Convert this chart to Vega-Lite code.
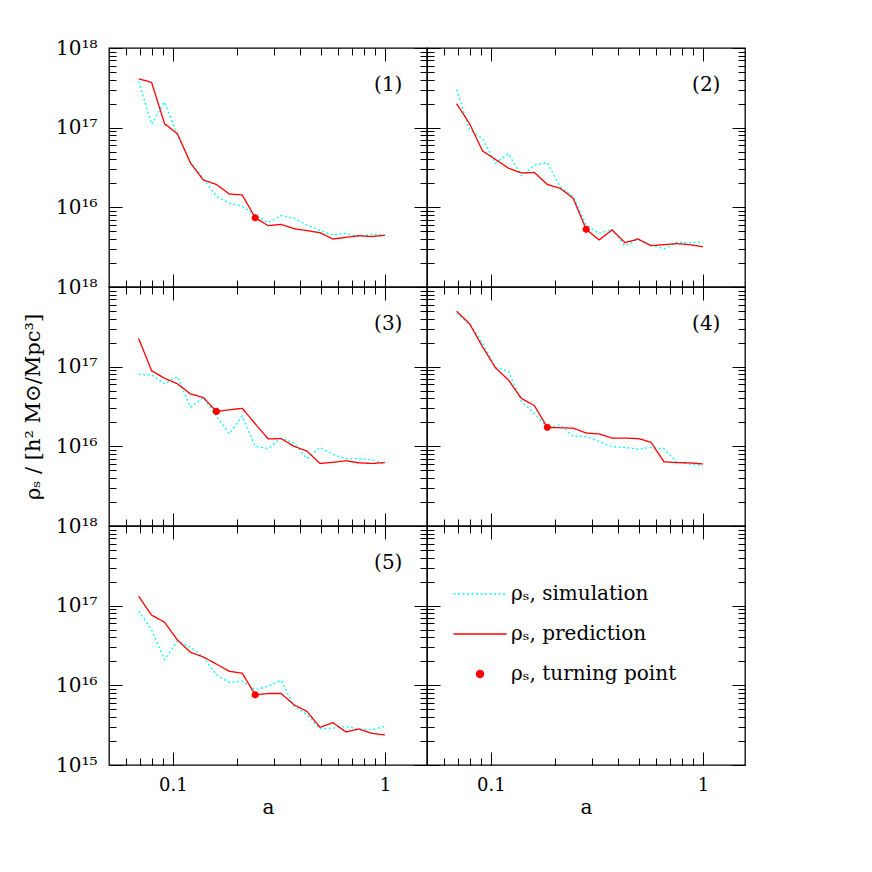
{
  "$schema": "https://vega.github.io/schema/vega-lite/v6.json",
  "background": "white",
  "padding": {"left": 21, "top": 37, "right": 5, "bottom": 5},
  "datasets": {
    "w": [
      {"p":1,"a":0.069,"simulation":3.8e17,"prediction":4.1e17},
      {"p":1,"a":0.0794,"simulation":1.1e17,"prediction":3.7e17},
      {"p":1,"a":0.0914,"simulation":2.1e17,"prediction":1.12e17},
      {"p":1,"a":0.1051,"simulation":8.0e16,"prediction":8.4e16},
      {"p":1,"a":0.1211,"simulation":3.7e16,"prediction":3.6e16},
      {"p":1,"a":0.1393,"simulation":2.3e16,"prediction":2.2e16},
      {"p":1,"a":0.1604,"simulation":1.37e16,"prediction":1.94e16},
      {"p":1,"a":0.1846,"simulation":1.13e16,"prediction":1.47e16},
      {"p":1,"a":0.2125,"simulation":1.03e16,"prediction":1.43e16},
      {"p":1,"a":0.2446,"simulation":7.9e15,"prediction":7.4e15},
      {"p":1,"a":0.2815,"simulation":6.4e15,"prediction":5.9e15},
      {"p":1,"a":0.324,"simulation":7.9e15,"prediction":6.1e15},
      {"p":1,"a":0.373,"simulation":7.3e15,"prediction":5.4e15},
      {"p":1,"a":0.4294,"simulation":6.0e15,"prediction":5.1e15},
      {"p":1,"a":0.4943,"simulation":5.1e15,"prediction":4.8e15},
      {"p":1,"a":0.5689,"simulation":4.5e15,"prediction":4.0e15},
      {"p":1,"a":0.6549,"simulation":4.7e15,"prediction":4.2e15},
      {"p":1,"a":0.7538,"simulation":4.3e15,"prediction":4.4e15},
      {"p":1,"a":0.8677,"simulation":4.6e15,"prediction":4.3e15},
      {"p":1,"a":1.0,"simulation":4.5e15,"prediction":4.46e15},
      {"p":2,"a":0.069,"simulation":3.0e17,"prediction":2.0e17},
      {"p":2,"a":0.0794,"simulation":9.3e16,"prediction":1.12e17},
      {"p":2,"a":0.0914,"simulation":7.3e16,"prediction":5.1e16},
      {"p":2,"a":0.1051,"simulation":3.6e16,"prediction":4.0e16},
      {"p":2,"a":0.1211,"simulation":4.7e16,"prediction":3.1e16},
      {"p":2,"a":0.1393,"simulation":2.5e16,"prediction":2.7e16},
      {"p":2,"a":0.1604,"simulation":3.4e16,"prediction":2.74e16},
      {"p":2,"a":0.1846,"simulation":3.65e16,"prediction":1.94e16},
      {"p":2,"a":0.2125,"simulation":1.8e16,"prediction":1.73e16},
      {"p":2,"a":0.2446,"simulation":1.36e16,"prediction":1.3e16},
      {"p":2,"a":0.2815,"simulation":6.0e15,"prediction":5.3e15},
      {"p":2,"a":0.324,"simulation":4.7e15,"prediction":3.9e15},
      {"p":2,"a":0.373,"simulation":5.3e15,"prediction":5.2e15},
      {"p":2,"a":0.4294,"simulation":3.3e15,"prediction":3.6e15},
      {"p":2,"a":0.4943,"simulation":4.0e15,"prediction":4.0e15},
      {"p":2,"a":0.5689,"simulation":3.4e15,"prediction":3.3e15},
      {"p":2,"a":0.6549,"simulation":3.0e15,"prediction":3.4e15},
      {"p":2,"a":0.7538,"simulation":3.65e15,"prediction":3.5e15},
      {"p":2,"a":0.8677,"simulation":3.6e15,"prediction":3.4e15},
      {"p":2,"a":1.0,"simulation":3.65e15,"prediction":3.2e15},
      {"p":3,"a":0.069,"simulation":8.0e16,"prediction":2.26e17},
      {"p":3,"a":0.0794,"simulation":7.9e16,"prediction":8.9e16},
      {"p":3,"a":0.0914,"simulation":6.1e16,"prediction":7.15e16},
      {"p":3,"a":0.1051,"simulation":7.5e16,"prediction":6.1e16},
      {"p":3,"a":0.1211,"simulation":3.1e16,"prediction":4.55e16},
      {"p":3,"a":0.1393,"simulation":4.1e16,"prediction":4.1e16},
      {"p":3,"a":0.1604,"simulation":2.4e16,"prediction":2.74e16},
      {"p":3,"a":0.1846,"simulation":1.44e16,"prediction":2.87e16},
      {"p":3,"a":0.2125,"simulation":2.4e16,"prediction":3.0e16},
      {"p":3,"a":0.2446,"simulation":1.0e16,"prediction":1.92e16},
      {"p":3,"a":0.2815,"simulation":9.4e15,"prediction":1.24e16},
      {"p":3,"a":0.324,"simulation":1.27e16,"prediction":1.25e16},
      {"p":3,"a":0.373,"simulation":1.1e16,"prediction":1.0e16},
      {"p":3,"a":0.4294,"simulation":7.0e15,"prediction":8.7e15},
      {"p":3,"a":0.4943,"simulation":9.7e15,"prediction":6.1e15},
      {"p":3,"a":0.5689,"simulation":7.9e15,"prediction":6.3e15},
      {"p":3,"a":0.6549,"simulation":7.0e15,"prediction":6.6e15},
      {"p":3,"a":0.7538,"simulation":7.0e15,"prediction":6.2e15},
      {"p":3,"a":0.8677,"simulation":6.8e15,"prediction":6.1e15},
      {"p":3,"a":1.0,"simulation":5.9e15,"prediction":6.25e15},
      {"p":4,"a":0.069,"simulation":4.7e17,"prediction":4.96e17},
      {"p":4,"a":0.0794,"simulation":3.4e17,"prediction":3.45e17},
      {"p":4,"a":0.0914,"simulation":2.0e17,"prediction":1.78e17},
      {"p":4,"a":0.1051,"simulation":9.8e16,"prediction":9.7e16},
      {"p":4,"a":0.1211,"simulation":8.8e16,"prediction":6.8e16},
      {"p":4,"a":0.1393,"simulation":3.65e16,"prediction":4.0e16},
      {"p":4,"a":0.1604,"simulation":2.6e16,"prediction":3.25e16},
      {"p":4,"a":0.1846,"simulation":1.69e16,"prediction":1.73e16},
      {"p":4,"a":0.2125,"simulation":1.87e16,"prediction":1.71e16},
      {"p":4,"a":0.2446,"simulation":1.33e16,"prediction":1.69e16},
      {"p":4,"a":0.2815,"simulation":1.33e16,"prediction":1.47e16},
      {"p":4,"a":0.324,"simulation":1.15e16,"prediction":1.43e16},
      {"p":4,"a":0.373,"simulation":9.9e15,"prediction":1.27e16},
      {"p":4,"a":0.4294,"simulation":9.7e15,"prediction":1.27e16},
      {"p":4,"a":0.4943,"simulation":9.2e15,"prediction":1.25e16},
      {"p":4,"a":0.5689,"simulation":9.7e15,"prediction":1.13e16},
      {"p":4,"a":0.6549,"simulation":9.3e15,"prediction":6.4e15},
      {"p":4,"a":0.7538,"simulation":6.3e15,"prediction":6.25e15},
      {"p":4,"a":0.8677,"simulation":6.0e15,"prediction":6.2e15},
      {"p":4,"a":1.0,"simulation":5.7e15,"prediction":6.0e15},
      {"p":5,"a":0.069,"simulation":8.5e16,"prediction":1.31e17},
      {"p":5,"a":0.0794,"simulation":5.0e16,"prediction":7.6e16},
      {"p":5,"a":0.0914,"simulation":2.1e16,"prediction":6.2e16},
      {"p":5,"a":0.1051,"simulation":3.6e16,"prediction":3.7e16},
      {"p":5,"a":0.1211,"simulation":3.0e16,"prediction":2.6e16},
      {"p":5,"a":0.1393,"simulation":2.27e16,"prediction":2.27e16},
      {"p":5,"a":0.1604,"simulation":1.36e16,"prediction":1.85e16},
      {"p":5,"a":0.1846,"simulation":1.09e16,"prediction":1.5e16},
      {"p":5,"a":0.2125,"simulation":1.13e16,"prediction":1.42e16},
      {"p":5,"a":0.2446,"simulation":8.8e15,"prediction":7.6e15},
      {"p":5,"a":0.2815,"simulation":9.7e15,"prediction":7.9e15},
      {"p":5,"a":0.324,"simulation":1.16e16,"prediction":7.9e15},
      {"p":5,"a":0.373,"simulation":5.45e15,"prediction":5.7e15},
      {"p":5,"a":0.4294,"simulation":4.3e15,"prediction":4.7e15},
      {"p":5,"a":0.4943,"simulation":2.83e15,"prediction":2.97e15},
      {"p":5,"a":0.5689,"simulation":2.9e15,"prediction":3.4e15},
      {"p":5,"a":0.6549,"simulation":3.05e15,"prediction":2.6e15},
      {"p":5,"a":0.7538,"simulation":2.83e15,"prediction":2.83e15},
      {"p":5,"a":0.8677,"simulation":2.78e15,"prediction":2.5e15},
      {"p":5,"a":1.0,"simulation":3.05e15,"prediction":2.38e15}
    ],
    "tp": [
      {"p":1,"s":"turning point","a":0.2446,"rho":7.4e15},
      {"p":2,"s":"turning point","a":0.2815,"rho":5.3e15},
      {"p":3,"s":"turning point","a":0.1604,"rho":2.74e16},
      {"p":4,"s":"turning point","a":0.1846,"rho":1.73e16},
      {"p":5,"s":"turning point","a":0.2446,"rho":7.6e15}
    ]
  },
  "columns": 2,
  "spacing": 0,
  "bounds": "flush",
  "resolve": {"scale": {"color": "shared", "shape": "shared", "strokeDash": "shared"}, "legend": {"color": "shared", "shape": "shared", "strokeDash": "shared"}},
  "concat": [
    {
      "width": 318, "height": 239,
      "resolve": {"axis": {"x": "independent", "y": "independent"}},
      "layer": [
        {
          "data": {"name": "w"},
          "transform": [{"filter": "datum.p == 1"}, {"fold": ["simulation", "prediction"], "as": ["s", "rho"]}, {"filter": "datum.s == 'simulation'"}],
          "mark": {"type": "line", "strokeWidth": 1.3},
          "encoding": {
            "x": {"field": "a", "type": "quantitative", "scale": {"type": "log", "domain": [0.05, 1.58], "nice": false},
                  "axis": {"orient": "bottom", "values": [0.06,0.07,0.08,0.09,0.1,0.2,0.3,0.4,0.5,0.6,0.7,0.8,0.9,1], "tickSize": {"condition": {"test": "datum.value == 0.1 || datum.value == 1", "value": -13}, "value": -7}, "labels": false, "title": null}},
            "y": {"field": "rho", "type": "quantitative", "scale": {"type": "log", "domain": [1e15, 1e18], "nice": false},
                  "axis": {"orient": "left", "values": [1e15,2e15,3e15,4e15,5e15,6e15,7e15,8e15,9e15,1e16,2e16,3e16,4e16,5e16,6e16,7e16,8e16,9e16,1e17,2e17,3e17,4e17,5e17,6e17,7e17,8e17,9e17,1e18], "tickSize": {"condition": {"test": "datum.value == 1e15 || datum.value == 1e16 || datum.value == 1e17 || datum.value == 1e18", "value": -13}, "value": -7}, "labelExpr": "datum.value == 1e18 ? '10¹⁸' : datum.value == 1e17 ? '10¹⁷' : datum.value == 1e16 ? '10¹⁶' : ''", "labelPadding": 25, "title": null}},
            "color": {"field": "s", "type": "nominal", "scale": {"domain": ["simulation", "prediction", "turning point"], "range": ["#00ffff", "#ff0000", "#ff0000"]},
              "legend": {
                "orient": "none", "legendX": 361, "legendY": 536, "title": null,
                "padding": 0, "rowPadding": 20, "symbolOffset": 0, "labelOffset": 21,
                "symbolSize": 312, "symbolStrokeWidth": 1.3,
                "labelFont": "DejaVu Serif", "labelFontSize": 20, "labelColor": "black", "labelLimit": 400,
                "labelExpr": "'ρₛ, ' + datum.label"
              }},
            "strokeDash": {"field": "s", "type": "nominal", "scale": {"domain": ["simulation", "prediction", "turning point"], "range": [[2, 2.5], [1, 0], [1, 0]]}}
          }
        },
        {
          "data": {"name": "w"},
          "transform": [{"filter": "datum.p == 1"}, {"fold": ["simulation", "prediction"], "as": ["s", "rho"]}, {"filter": "datum.s == 'prediction'"}],
          "mark": {"type": "line", "strokeWidth": 1.3},
          "encoding": {
            "x": {"field": "a", "type": "quantitative", "scale": {"type": "log", "domain": [0.05, 1.58], "nice": false},
                  "axis": {"orient": "top", "values": [0.06,0.07,0.08,0.09,0.1,0.2,0.3,0.4,0.5,0.6,0.7,0.8,0.9,1], "tickSize": {"condition": {"test": "datum.value == 0.1 || datum.value == 1", "value": -13}, "value": -7}, "labels": false, "title": null}},
            "y": {"field": "rho", "type": "quantitative", "scale": {"type": "log", "domain": [1e15, 1e18], "nice": false},
                  "axis": {"orient": "right", "values": [1e15,2e15,3e15,4e15,5e15,6e15,7e15,8e15,9e15,1e16,2e16,3e16,4e16,5e16,6e16,7e16,8e16,9e16,1e17,2e17,3e17,4e17,5e17,6e17,7e17,8e17,9e17,1e18], "tickSize": {"condition": {"test": "datum.value == 1e15 || datum.value == 1e16 || datum.value == 1e17 || datum.value == 1e18", "value": -13}, "value": -7}, "labels": false, "title": null}},
            "color": {"field": "s", "type": "nominal", "scale": {"domain": ["simulation", "prediction", "turning point"], "range": ["#00ffff", "#ff0000", "#ff0000"]}},
            "strokeDash": {"field": "s", "type": "nominal", "scale": {"domain": ["simulation", "prediction", "turning point"], "range": [[2, 2.5], [1, 0], [1, 0]]}}
          }
        },
        {
          "data": {"name": "tp"},
          "transform": [{"filter": "datum.p == 1"}],
          "mark": {"type": "point", "filled": true, "size": 324, "opacity": 1},
          "encoding": {
            "x": {"field": "a", "type": "quantitative", "scale": {"type": "log", "domain": [0.05, 1.58], "nice": false}, "axis": null},
            "y": {"field": "rho", "type": "quantitative", "scale": {"type": "log", "domain": [1e15, 1e18], "nice": false}, "axis": null},
            "color": {"field": "s", "type": "nominal", "scale": {"domain": ["simulation", "prediction", "turning point"], "range": ["#00ffff", "#ff0000", "#ff0000"]}},
            "shape": {"field": "s", "type": "nominal", "scale": {"domain": ["simulation", "prediction", "turning point"], "range": ["M-3,0H3", "M-3,0H3", "M0.4,0A0.4,0.4 0 1,1 -0.4,0A0.4,0.4 0 1,1 0.4,0Z"]}}
          }
        },
        {
          "data": {"values": [{}]},
          "mark": {"type": "text", "text": "(1)", "align": "right", "baseline": "alphabetic", "fontSize": 20, "font": "DejaVu Serif", "color": "black"},
          "encoding": {
            "x": {"datum": 1.21, "type": "quantitative", "scale": {"type": "log", "domain": [0.05, 1.58], "nice": false}, "axis": null},
            "y": {"datum": 2.9e17, "type": "quantitative", "scale": {"type": "log", "domain": [1e15, 1e18], "nice": false}, "axis": null}
          }
        }
      ]
    },
    {
      "width": 318, "height": 239,
      "resolve": {"axis": {"x": "independent", "y": "independent"}},
      "layer": [
        {
          "data": {"name": "w"},
          "transform": [{"filter": "datum.p == 2"}, {"fold": ["simulation", "prediction"], "as": ["s", "rho"]}, {"filter": "datum.s == 'simulation'"}],
          "mark": {"type": "line", "strokeWidth": 1.3},
          "encoding": {
            "x": {"field": "a", "type": "quantitative", "scale": {"type": "log", "domain": [0.05, 1.58], "nice": false},
                  "axis": {"orient": "bottom", "values": [0.06,0.07,0.08,0.09,0.1,0.2,0.3,0.4,0.5,0.6,0.7,0.8,0.9,1], "tickSize": {"condition": {"test": "datum.value == 0.1 || datum.value == 1", "value": -13}, "value": -7}, "labels": false, "title": null}},
            "y": {"field": "rho", "type": "quantitative", "scale": {"type": "log", "domain": [1e15, 1e18], "nice": false},
                  "axis": {"orient": "left", "values": [1e15,2e15,3e15,4e15,5e15,6e15,7e15,8e15,9e15,1e16,2e16,3e16,4e16,5e16,6e16,7e16,8e16,9e16,1e17,2e17,3e17,4e17,5e17,6e17,7e17,8e17,9e17,1e18], "tickSize": {"condition": {"test": "datum.value == 1e15 || datum.value == 1e16 || datum.value == 1e17 || datum.value == 1e18", "value": -13}, "value": -7}, "labels": false, "title": null}},
            "color": {"field": "s", "type": "nominal", "scale": {"domain": ["simulation", "prediction", "turning point"], "range": ["#00ffff", "#ff0000", "#ff0000"]}},
            "strokeDash": {"field": "s", "type": "nominal", "scale": {"domain": ["simulation", "prediction", "turning point"], "range": [[2, 2.5], [1, 0], [1, 0]]}}
          }
        },
        {
          "data": {"name": "w"},
          "transform": [{"filter": "datum.p == 2"}, {"fold": ["simulation", "prediction"], "as": ["s", "rho"]}, {"filter": "datum.s == 'prediction'"}],
          "mark": {"type": "line", "strokeWidth": 1.3},
          "encoding": {
            "x": {"field": "a", "type": "quantitative", "scale": {"type": "log", "domain": [0.05, 1.58], "nice": false},
                  "axis": {"orient": "top", "values": [0.06,0.07,0.08,0.09,0.1,0.2,0.3,0.4,0.5,0.6,0.7,0.8,0.9,1], "tickSize": {"condition": {"test": "datum.value == 0.1 || datum.value == 1", "value": -13}, "value": -7}, "labels": false, "title": null}},
            "y": {"field": "rho", "type": "quantitative", "scale": {"type": "log", "domain": [1e15, 1e18], "nice": false},
                  "axis": {"orient": "right", "values": [1e15,2e15,3e15,4e15,5e15,6e15,7e15,8e15,9e15,1e16,2e16,3e16,4e16,5e16,6e16,7e16,8e16,9e16,1e17,2e17,3e17,4e17,5e17,6e17,7e17,8e17,9e17,1e18], "tickSize": {"condition": {"test": "datum.value == 1e15 || datum.value == 1e16 || datum.value == 1e17 || datum.value == 1e18", "value": -13}, "value": -7}, "labels": false, "title": null}},
            "color": {"field": "s", "type": "nominal", "scale": {"domain": ["simulation", "prediction", "turning point"], "range": ["#00ffff", "#ff0000", "#ff0000"]}},
            "strokeDash": {"field": "s", "type": "nominal", "scale": {"domain": ["simulation", "prediction", "turning point"], "range": [[2, 2.5], [1, 0], [1, 0]]}}
          }
        },
        {
          "data": {"name": "tp"},
          "transform": [{"filter": "datum.p == 2"}],
          "mark": {"type": "point", "filled": true, "size": 324, "opacity": 1},
          "encoding": {
            "x": {"field": "a", "type": "quantitative", "scale": {"type": "log", "domain": [0.05, 1.58], "nice": false}, "axis": null},
            "y": {"field": "rho", "type": "quantitative", "scale": {"type": "log", "domain": [1e15, 1e18], "nice": false}, "axis": null},
            "color": {"field": "s", "type": "nominal", "scale": {"domain": ["simulation", "prediction", "turning point"], "range": ["#00ffff", "#ff0000", "#ff0000"]}},
            "shape": {"field": "s", "type": "nominal", "scale": {"domain": ["simulation", "prediction", "turning point"], "range": ["M-3,0H3", "M-3,0H3", "M0.4,0A0.4,0.4 0 1,1 -0.4,0A0.4,0.4 0 1,1 0.4,0Z"]}}
          }
        },
        {
          "data": {"values": [{}]},
          "mark": {"type": "text", "text": "(2)", "align": "right", "baseline": "alphabetic", "fontSize": 20, "font": "DejaVu Serif", "color": "black"},
          "encoding": {
            "x": {"datum": 1.21, "type": "quantitative", "scale": {"type": "log", "domain": [0.05, 1.58], "nice": false}, "axis": null},
            "y": {"datum": 2.9e17, "type": "quantitative", "scale": {"type": "log", "domain": [1e15, 1e18], "nice": false}, "axis": null}
          }
        }
      ]
    },
    {
      "width": 318, "height": 239,
      "resolve": {"axis": {"x": "independent", "y": "independent"}},
      "layer": [
        {
          "data": {"name": "w"},
          "transform": [{"filter": "datum.p == 3"}, {"fold": ["simulation", "prediction"], "as": ["s", "rho"]}, {"filter": "datum.s == 'simulation'"}],
          "mark": {"type": "line", "strokeWidth": 1.3},
          "encoding": {
            "x": {"field": "a", "type": "quantitative", "scale": {"type": "log", "domain": [0.05, 1.58], "nice": false},
                  "axis": {"orient": "bottom", "values": [0.06,0.07,0.08,0.09,0.1,0.2,0.3,0.4,0.5,0.6,0.7,0.8,0.9,1], "tickSize": {"condition": {"test": "datum.value == 0.1 || datum.value == 1", "value": -13}, "value": -7}, "labels": false, "title": null}},
            "y": {"field": "rho", "type": "quantitative", "scale": {"type": "log", "domain": [1e15, 1e18], "nice": false},
                  "axis": {"orient": "left", "values": [1e15,2e15,3e15,4e15,5e15,6e15,7e15,8e15,9e15,1e16,2e16,3e16,4e16,5e16,6e16,7e16,8e16,9e16,1e17,2e17,3e17,4e17,5e17,6e17,7e17,8e17,9e17,1e18], "tickSize": {"condition": {"test": "datum.value == 1e15 || datum.value == 1e16 || datum.value == 1e17 || datum.value == 1e18", "value": -13}, "value": -7}, "labelExpr": "datum.value == 1e18 ? '10¹⁸' : datum.value == 1e17 ? '10¹⁷' : datum.value == 1e16 ? '10¹⁶' : ''", "labelPadding": 25, "title": "ρₛ / [h² M⊙/Mpc³]", "titlePadding": 12, "titleFontSize": 21}},
            "color": {"field": "s", "type": "nominal", "scale": {"domain": ["simulation", "prediction", "turning point"], "range": ["#00ffff", "#ff0000", "#ff0000"]}},
            "strokeDash": {"field": "s", "type": "nominal", "scale": {"domain": ["simulation", "prediction", "turning point"], "range": [[2, 2.5], [1, 0], [1, 0]]}}
          }
        },
        {
          "data": {"name": "w"},
          "transform": [{"filter": "datum.p == 3"}, {"fold": ["simulation", "prediction"], "as": ["s", "rho"]}, {"filter": "datum.s == 'prediction'"}],
          "mark": {"type": "line", "strokeWidth": 1.3},
          "encoding": {
            "x": {"field": "a", "type": "quantitative", "scale": {"type": "log", "domain": [0.05, 1.58], "nice": false},
                  "axis": {"orient": "top", "values": [0.06,0.07,0.08,0.09,0.1,0.2,0.3,0.4,0.5,0.6,0.7,0.8,0.9,1], "tickSize": {"condition": {"test": "datum.value == 0.1 || datum.value == 1", "value": -13}, "value": -7}, "labels": false, "title": null}},
            "y": {"field": "rho", "type": "quantitative", "scale": {"type": "log", "domain": [1e15, 1e18], "nice": false},
                  "axis": {"orient": "right", "values": [1e15,2e15,3e15,4e15,5e15,6e15,7e15,8e15,9e15,1e16,2e16,3e16,4e16,5e16,6e16,7e16,8e16,9e16,1e17,2e17,3e17,4e17,5e17,6e17,7e17,8e17,9e17,1e18], "tickSize": {"condition": {"test": "datum.value == 1e15 || datum.value == 1e16 || datum.value == 1e17 || datum.value == 1e18", "value": -13}, "value": -7}, "labels": false, "title": null}},
            "color": {"field": "s", "type": "nominal", "scale": {"domain": ["simulation", "prediction", "turning point"], "range": ["#00ffff", "#ff0000", "#ff0000"]}},
            "strokeDash": {"field": "s", "type": "nominal", "scale": {"domain": ["simulation", "prediction", "turning point"], "range": [[2, 2.5], [1, 0], [1, 0]]}}
          }
        },
        {
          "data": {"name": "tp"},
          "transform": [{"filter": "datum.p == 3"}],
          "mark": {"type": "point", "filled": true, "size": 324, "opacity": 1},
          "encoding": {
            "x": {"field": "a", "type": "quantitative", "scale": {"type": "log", "domain": [0.05, 1.58], "nice": false}, "axis": null},
            "y": {"field": "rho", "type": "quantitative", "scale": {"type": "log", "domain": [1e15, 1e18], "nice": false}, "axis": null},
            "color": {"field": "s", "type": "nominal", "scale": {"domain": ["simulation", "prediction", "turning point"], "range": ["#00ffff", "#ff0000", "#ff0000"]}},
            "shape": {"field": "s", "type": "nominal", "scale": {"domain": ["simulation", "prediction", "turning point"], "range": ["M-3,0H3", "M-3,0H3", "M0.4,0A0.4,0.4 0 1,1 -0.4,0A0.4,0.4 0 1,1 0.4,0Z"]}}
          }
        },
        {
          "data": {"values": [{}]},
          "mark": {"type": "text", "text": "(3)", "align": "right", "baseline": "alphabetic", "fontSize": 20, "font": "DejaVu Serif", "color": "black"},
          "encoding": {
            "x": {"datum": 1.21, "type": "quantitative", "scale": {"type": "log", "domain": [0.05, 1.58], "nice": false}, "axis": null},
            "y": {"datum": 2.9e17, "type": "quantitative", "scale": {"type": "log", "domain": [1e15, 1e18], "nice": false}, "axis": null}
          }
        }
      ]
    },
    {
      "width": 318, "height": 239,
      "resolve": {"axis": {"x": "independent", "y": "independent"}},
      "layer": [
        {
          "data": {"name": "w"},
          "transform": [{"filter": "datum.p == 4"}, {"fold": ["simulation", "prediction"], "as": ["s", "rho"]}, {"filter": "datum.s == 'simulation'"}],
          "mark": {"type": "line", "strokeWidth": 1.3},
          "encoding": {
            "x": {"field": "a", "type": "quantitative", "scale": {"type": "log", "domain": [0.05, 1.58], "nice": false},
                  "axis": {"orient": "bottom", "values": [0.06,0.07,0.08,0.09,0.1,0.2,0.3,0.4,0.5,0.6,0.7,0.8,0.9,1], "tickSize": {"condition": {"test": "datum.value == 0.1 || datum.value == 1", "value": -13}, "value": -7}, "labels": false, "title": null}},
            "y": {"field": "rho", "type": "quantitative", "scale": {"type": "log", "domain": [1e15, 1e18], "nice": false},
                  "axis": {"orient": "left", "values": [1e15,2e15,3e15,4e15,5e15,6e15,7e15,8e15,9e15,1e16,2e16,3e16,4e16,5e16,6e16,7e16,8e16,9e16,1e17,2e17,3e17,4e17,5e17,6e17,7e17,8e17,9e17,1e18], "tickSize": {"condition": {"test": "datum.value == 1e15 || datum.value == 1e16 || datum.value == 1e17 || datum.value == 1e18", "value": -13}, "value": -7}, "labels": false, "title": null}},
            "color": {"field": "s", "type": "nominal", "scale": {"domain": ["simulation", "prediction", "turning point"], "range": ["#00ffff", "#ff0000", "#ff0000"]}},
            "strokeDash": {"field": "s", "type": "nominal", "scale": {"domain": ["simulation", "prediction", "turning point"], "range": [[2, 2.5], [1, 0], [1, 0]]}}
          }
        },
        {
          "data": {"name": "w"},
          "transform": [{"filter": "datum.p == 4"}, {"fold": ["simulation", "prediction"], "as": ["s", "rho"]}, {"filter": "datum.s == 'prediction'"}],
          "mark": {"type": "line", "strokeWidth": 1.3},
          "encoding": {
            "x": {"field": "a", "type": "quantitative", "scale": {"type": "log", "domain": [0.05, 1.58], "nice": false},
                  "axis": {"orient": "top", "values": [0.06,0.07,0.08,0.09,0.1,0.2,0.3,0.4,0.5,0.6,0.7,0.8,0.9,1], "tickSize": {"condition": {"test": "datum.value == 0.1 || datum.value == 1", "value": -13}, "value": -7}, "labels": false, "title": null}},
            "y": {"field": "rho", "type": "quantitative", "scale": {"type": "log", "domain": [1e15, 1e18], "nice": false},
                  "axis": {"orient": "right", "values": [1e15,2e15,3e15,4e15,5e15,6e15,7e15,8e15,9e15,1e16,2e16,3e16,4e16,5e16,6e16,7e16,8e16,9e16,1e17,2e17,3e17,4e17,5e17,6e17,7e17,8e17,9e17,1e18], "tickSize": {"condition": {"test": "datum.value == 1e15 || datum.value == 1e16 || datum.value == 1e17 || datum.value == 1e18", "value": -13}, "value": -7}, "labels": false, "title": null}},
            "color": {"field": "s", "type": "nominal", "scale": {"domain": ["simulation", "prediction", "turning point"], "range": ["#00ffff", "#ff0000", "#ff0000"]}},
            "strokeDash": {"field": "s", "type": "nominal", "scale": {"domain": ["simulation", "prediction", "turning point"], "range": [[2, 2.5], [1, 0], [1, 0]]}}
          }
        },
        {
          "data": {"name": "tp"},
          "transform": [{"filter": "datum.p == 4"}],
          "mark": {"type": "point", "filled": true, "size": 324, "opacity": 1},
          "encoding": {
            "x": {"field": "a", "type": "quantitative", "scale": {"type": "log", "domain": [0.05, 1.58], "nice": false}, "axis": null},
            "y": {"field": "rho", "type": "quantitative", "scale": {"type": "log", "domain": [1e15, 1e18], "nice": false}, "axis": null},
            "color": {"field": "s", "type": "nominal", "scale": {"domain": ["simulation", "prediction", "turning point"], "range": ["#00ffff", "#ff0000", "#ff0000"]}},
            "shape": {"field": "s", "type": "nominal", "scale": {"domain": ["simulation", "prediction", "turning point"], "range": ["M-3,0H3", "M-3,0H3", "M0.4,0A0.4,0.4 0 1,1 -0.4,0A0.4,0.4 0 1,1 0.4,0Z"]}}
          }
        },
        {
          "data": {"values": [{}]},
          "mark": {"type": "text", "text": "(4)", "align": "right", "baseline": "alphabetic", "fontSize": 20, "font": "DejaVu Serif", "color": "black"},
          "encoding": {
            "x": {"datum": 1.21, "type": "quantitative", "scale": {"type": "log", "domain": [0.05, 1.58], "nice": false}, "axis": null},
            "y": {"datum": 2.9e17, "type": "quantitative", "scale": {"type": "log", "domain": [1e15, 1e18], "nice": false}, "axis": null}
          }
        }
      ]
    },
    {
      "width": 318, "height": 239,
      "resolve": {"axis": {"x": "independent", "y": "independent"}},
      "layer": [
        {
          "data": {"name": "w"},
          "transform": [{"filter": "datum.p == 5"}, {"fold": ["simulation", "prediction"], "as": ["s", "rho"]}, {"filter": "datum.s == 'simulation'"}],
          "mark": {"type": "line", "strokeWidth": 1.3},
          "encoding": {
            "x": {"field": "a", "type": "quantitative", "scale": {"type": "log", "domain": [0.05, 1.58], "nice": false},
                  "axis": {"orient": "bottom", "values": [0.06,0.07,0.08,0.09,0.1,0.2,0.3,0.4,0.5,0.6,0.7,0.8,0.9,1], "tickSize": {"condition": {"test": "datum.value == 0.1 || datum.value == 1", "value": -13}, "value": -7}, "labelExpr": "datum.value == 0.1 ? '0.1' : datum.value == 1 ? '1' : ''", "labelPadding": 24, "title": "a", "titlePadding": -3}},
            "y": {"field": "rho", "type": "quantitative", "scale": {"type": "log", "domain": [1e15, 1e18], "nice": false},
                  "axis": {"orient": "left", "values": [1e15,2e15,3e15,4e15,5e15,6e15,7e15,8e15,9e15,1e16,2e16,3e16,4e16,5e16,6e16,7e16,8e16,9e16,1e17,2e17,3e17,4e17,5e17,6e17,7e17,8e17,9e17,1e18], "tickSize": {"condition": {"test": "datum.value == 1e15 || datum.value == 1e16 || datum.value == 1e17 || datum.value == 1e18", "value": -13}, "value": -7}, "labelExpr": "datum.value == 1e18 ? '10¹⁸' : datum.value == 1e17 ? '10¹⁷' : datum.value == 1e16 ? '10¹⁶' : datum.value == 1e15 ? '10¹⁵' : ''", "labelPadding": 25, "title": null}},
            "color": {"field": "s", "type": "nominal", "scale": {"domain": ["simulation", "prediction", "turning point"], "range": ["#00ffff", "#ff0000", "#ff0000"]}},
            "strokeDash": {"field": "s", "type": "nominal", "scale": {"domain": ["simulation", "prediction", "turning point"], "range": [[2, 2.5], [1, 0], [1, 0]]}}
          }
        },
        {
          "data": {"name": "w"},
          "transform": [{"filter": "datum.p == 5"}, {"fold": ["simulation", "prediction"], "as": ["s", "rho"]}, {"filter": "datum.s == 'prediction'"}],
          "mark": {"type": "line", "strokeWidth": 1.3},
          "encoding": {
            "x": {"field": "a", "type": "quantitative", "scale": {"type": "log", "domain": [0.05, 1.58], "nice": false},
                  "axis": {"orient": "top", "values": [0.06,0.07,0.08,0.09,0.1,0.2,0.3,0.4,0.5,0.6,0.7,0.8,0.9,1], "tickSize": {"condition": {"test": "datum.value == 0.1 || datum.value == 1", "value": -13}, "value": -7}, "labels": false, "title": null}},
            "y": {"field": "rho", "type": "quantitative", "scale": {"type": "log", "domain": [1e15, 1e18], "nice": false},
                  "axis": {"orient": "right", "values": [1e15,2e15,3e15,4e15,5e15,6e15,7e15,8e15,9e15,1e16,2e16,3e16,4e16,5e16,6e16,7e16,8e16,9e16,1e17,2e17,3e17,4e17,5e17,6e17,7e17,8e17,9e17,1e18], "tickSize": {"condition": {"test": "datum.value == 1e15 || datum.value == 1e16 || datum.value == 1e17 || datum.value == 1e18", "value": -13}, "value": -7}, "labels": false, "title": null}},
            "color": {"field": "s", "type": "nominal", "scale": {"domain": ["simulation", "prediction", "turning point"], "range": ["#00ffff", "#ff0000", "#ff0000"]}},
            "strokeDash": {"field": "s", "type": "nominal", "scale": {"domain": ["simulation", "prediction", "turning point"], "range": [[2, 2.5], [1, 0], [1, 0]]}}
          }
        },
        {
          "data": {"name": "tp"},
          "transform": [{"filter": "datum.p == 5"}],
          "mark": {"type": "point", "filled": true, "size": 324, "opacity": 1},
          "encoding": {
            "x": {"field": "a", "type": "quantitative", "scale": {"type": "log", "domain": [0.05, 1.58], "nice": false}, "axis": null},
            "y": {"field": "rho", "type": "quantitative", "scale": {"type": "log", "domain": [1e15, 1e18], "nice": false}, "axis": null},
            "color": {"field": "s", "type": "nominal", "scale": {"domain": ["simulation", "prediction", "turning point"], "range": ["#00ffff", "#ff0000", "#ff0000"]}},
            "shape": {"field": "s", "type": "nominal", "scale": {"domain": ["simulation", "prediction", "turning point"], "range": ["M-3,0H3", "M-3,0H3", "M0.4,0A0.4,0.4 0 1,1 -0.4,0A0.4,0.4 0 1,1 0.4,0Z"]}}
          }
        },
        {
          "data": {"values": [{}]},
          "mark": {"type": "text", "text": "(5)", "align": "right", "baseline": "alphabetic", "fontSize": 20, "font": "DejaVu Serif", "color": "black"},
          "encoding": {
            "x": {"datum": 1.21, "type": "quantitative", "scale": {"type": "log", "domain": [0.05, 1.58], "nice": false}, "axis": null},
            "y": {"datum": 2.9e17, "type": "quantitative", "scale": {"type": "log", "domain": [1e15, 1e18], "nice": false}, "axis": null}
          }
        }
      ]
    },
    {
      "width": 318, "height": 239,
      "resolve": {"axis": {"x": "independent", "y": "independent"}},
      "layer": [
        {
          "data": {"name": "tp"},
          "transform": [{"filter": "false"}],
          "mark": {"type": "point", "opacity": 0},
          "encoding": {
            "x": {"field": "a", "type": "quantitative", "scale": {"type": "log", "domain": [0.05, 1.58], "nice": false},
                  "axis": {"orient": "bottom", "values": [0.06,0.07,0.08,0.09,0.1,0.2,0.3,0.4,0.5,0.6,0.7,0.8,0.9,1], "tickSize": {"condition": {"test": "datum.value == 0.1 || datum.value == 1", "value": -13}, "value": -7}, "labelExpr": "datum.value == 0.1 ? '0.1' : datum.value == 1 ? '1' : ''", "labelPadding": 24, "title": "a", "titlePadding": -3}},
            "y": {"field": "rho", "type": "quantitative", "scale": {"type": "log", "domain": [1e15, 1e18], "nice": false},
                  "axis": {"orient": "left", "values": [1e15,2e15,3e15,4e15,5e15,6e15,7e15,8e15,9e15,1e16,2e16,3e16,4e16,5e16,6e16,7e16,8e16,9e16,1e17,2e17,3e17,4e17,5e17,6e17,7e17,8e17,9e17,1e18], "tickSize": {"condition": {"test": "datum.value == 1e15 || datum.value == 1e16 || datum.value == 1e17 || datum.value == 1e18", "value": -13}, "value": -7}, "labels": false, "title": null}}
          }
        },
        {
          "data": {"name": "tp"},
          "transform": [{"filter": "false"}],
          "mark": {"type": "point", "opacity": 0},
          "encoding": {
            "x": {"field": "a", "type": "quantitative", "scale": {"type": "log", "domain": [0.05, 1.58], "nice": false},
                  "axis": {"orient": "top", "values": [0.06,0.07,0.08,0.09,0.1,0.2,0.3,0.4,0.5,0.6,0.7,0.8,0.9,1], "tickSize": {"condition": {"test": "datum.value == 0.1 || datum.value == 1", "value": -13}, "value": -7}, "labels": false, "title": null}},
            "y": {"field": "rho", "type": "quantitative", "scale": {"type": "log", "domain": [1e15, 1e18], "nice": false},
                  "axis": {"orient": "right", "values": [1e15,2e15,3e15,4e15,5e15,6e15,7e15,8e15,9e15,1e16,2e16,3e16,4e16,5e16,6e16,7e16,8e16,9e16,1e17,2e17,3e17,4e17,5e17,6e17,7e17,8e17,9e17,1e18], "tickSize": {"condition": {"test": "datum.value == 1e15 || datum.value == 1e16 || datum.value == 1e17 || datum.value == 1e18", "value": -13}, "value": -7}, "labels": false, "title": null}}
          }
        }
      ]
    }
  ],
  "config": {
    "view": {"stroke": "black", "strokeWidth": 1.3},
    "axis": {
      "tickColor": "black", "tickWidth": 1, "domain": false, "grid": false,
      "labelFont": "DejaVu Serif", "labelColor": "black",
      "titleFont": "DejaVu Serif", "titleFontSize": 20, "titleColor": "black", "titleFontWeight": "normal",
      "labelFlush": false, "labelOverlap": false, "labelBound": false
    },
    "axisX": {"labelFontSize": 18},
    "axisY": {"labelFontSize": 20},
    "text": {"font": "DejaVu Serif"}
  }
}
